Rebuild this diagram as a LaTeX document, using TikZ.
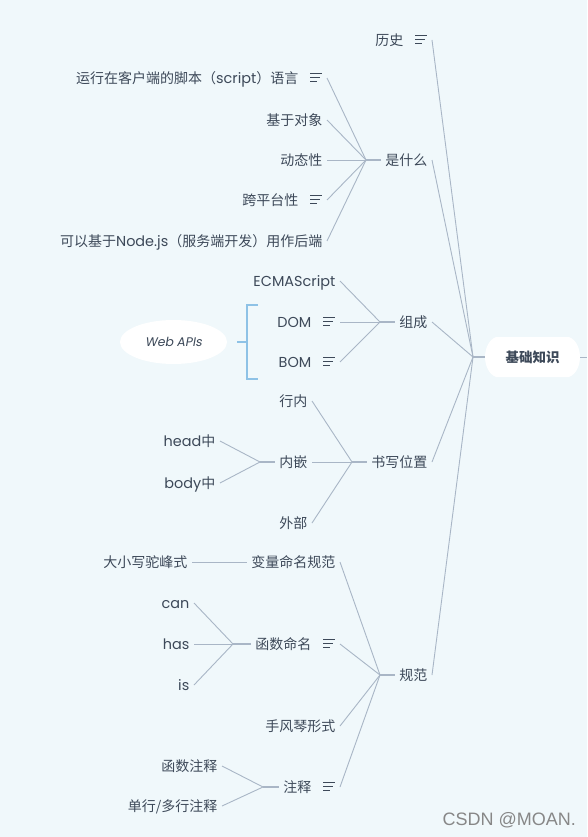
\documentclass[tikz,border=0pt]{standalone}
\usepackage{fontspec}
\setmainfont{Noto Sans CJK SC}
\newfontfamily\lat[Scale=1.03]{Poppins}
\newfontfamily\latit[FakeSlant=0.18]{Poppins}
\newfontfamily\wmfont{Liberation Sans}
\usetikzlibrary{shapes.geometric}
\definecolor{bgc}{HTML}{F0F8FB}
\definecolor{txtc}{HTML}{3D4959}
\definecolor{linec}{HTML}{A9B6C6}
\definecolor{brkc}{HTML}{8EC2E6}
\definecolor{wmc}{HTML}{878787}
\newcommand\menuico{\hspace{12pt}{\color{txtc}\raisebox{1.2pt}{\vbox{\hrule width 12pt height 1pt\vskip 3pt\hrule width 9.5pt height 1pt\vskip 3pt\hrule width 7pt height 1pt}}}}
\tikzset{
  item/.style={text=txtc, font=\fontsize{14}{16}\selectfont, inner xsep=4.5pt, inner ysep=0pt, text height=12.8pt, text depth=2pt, anchor=east},
  conn/.style={draw=linec, line width=0.9pt},
  stub/.style={draw=linec, line width=1.5pt},
  brk/.style={draw=brkc, line width=1.4pt},
}
\begin{document}
\begin{tikzpicture}[x=1pt,y=-1pt]
\fill[bgc] (0,0) rectangle (587,837);
\useasboundingbox (0,0) rectangle (587,837);

% root
\fill[white] (496,337) -- (569,337) .. controls (577,340) and (580,350) .. (580,357)
  .. controls (580,364) and (577,374) .. (569,377) -- (496,377)
  .. controls (488,374) and (485,364) .. (485,357) .. controls (485,350) and (488,340) .. (496,337) -- cycle;
\node[text=txtc, font=\fontsize{13.5}{15}\selectfont\bfseries, minimum width=95pt, minimum height=40pt, inner sep=0pt] (root) at (532.5,357) {基础知识};
\coordinate (rootend) at (587,357);

% hubs
\coordinate (hub0) at (473,357);
\coordinate (hub2) at (366,160);
\coordinate (hub3) at (380,322);
\coordinate (hub4) at (352,462);
\coordinate (hub42) at (260,462);
\coordinate (hub5) at (380,675);
\coordinate (hub52) at (233,644);
\coordinate (hub54) at (263,787);

% level 1
\node[item] (h1) at (432,40) {历史\menuico};
\node[item] (h2) at (432,160) {是什么};
\node[item] (h3) at (432,322) {组成};
\node[item] (h4) at (432,462) {书写位置};
\node[item] (h5) at (432,675) {规范};

% 是什么
\node[item] (c11) at (327,78) {运行在客户端的脚本（{\lat script}）语言\menuico};
\node[item] (c12) at (327,120) {基于对象};
\node[item] (c13) at (327,160) {动态性};
\node[item] (c14) at (327,200) {跨平台性\menuico};
\node[item] (c15) at (327,241) {可以基于{\lat Node.js}（服务端开发）用作后端};

% 组成
\node[item] (c21) at (340,281) {\lat ECMAScript};
\node[item] (c22) at (340,322) {{\lat DOM}\menuico};
\node[item] (c23) at (340,362) {{\lat BOM}\menuico};
\node[ellipse, fill=white, minimum width=107pt, minimum height=44pt, inner sep=0pt, text=txtc, font=\latit\fontsize{12.5}{14}\selectfont] (webapi) at (173.5,342) {Web APIs};
\coordinate (bmid) at (247,342);

% 书写位置
\node[item] (c31) at (312,401) {行内};
\node[item] (c32) at (312,462) {内嵌};
\node[item] (c33) at (312,523) {外部};
\node[item] (c321) at (220,441) {{\lat head}中};
\node[item] (c322) at (220,483) {{\lat body}中};

% 规范
\node[item] (c41) at (340,562) {变量命名规范};
\node[item] (c42) at (340,644) {函数命名\menuico};
\node[item] (c43) at (340,726) {手风琴形式};
\node[item] (c44) at (340,787) {注释\menuico};
\node[item] (c411) at (192,562) {大小写驼峰式};
\node[item] (c421) at (194,603) {\lat can};
\node[item] (c422) at (194,644) {\lat has};
\node[item] (c423) at (194,685) {\lat is};
\node[item] (c441) at (222,766) {函数注释};
\node[item] (c442) at (222,806) {单行/多行注释};

% watermark
\node[text=wmc, font=\wmfont\fontsize{18}{20}\selectfont, anchor=east, inner sep=0pt] (wm) at (576,820) {CSDN @MOAN.};

% connectors
\draw[stub] (hub0) -- (root.west);
\draw[conn] (root.east) -- (rootend);
\foreach \n in {h1,h2,h3,h4,h5} \draw[conn] (hub0) -- (\n.east);

\draw[stub] (hub2) -- (h2.west);
\foreach \n in {c11,c12,c13,c14,c15} \draw[conn] (hub2) -- (\n.east);

\draw[stub] (hub3) -- (h3.west);
\foreach \n in {c21,c22,c23} \draw[conn] (hub3) -- (\n.east);
\draw[brk] (258,305) -- (247,305) -- (247,379) -- (258,379);
\draw[brk] (bmid) -- ++(-10,0);

\draw[stub] (hub4) -- (h4.west);
\foreach \n in {c31,c32,c33} \draw[conn] (hub4) -- (\n.east);
\draw[stub] (hub42) -- (c32.west);
\foreach \n in {c321,c322} \draw[conn] (hub42) -- (\n.east);

\draw[stub] (hub5) -- (h5.west);
\foreach \n in {c41,c42,c43,c44} \draw[conn] (hub5) -- (\n.east);
\draw[conn] (c411.east) -- (c41.west);
\draw[stub] (hub52) -- (c42.west);
\foreach \n in {c421,c422,c423} \draw[conn] (hub52) -- (\n.east);
\draw[stub] (hub54) -- (c44.west);
\foreach \n in {c441,c442} \draw[conn] (hub54) -- (\n.east);
\end{tikzpicture}
\end{document}
